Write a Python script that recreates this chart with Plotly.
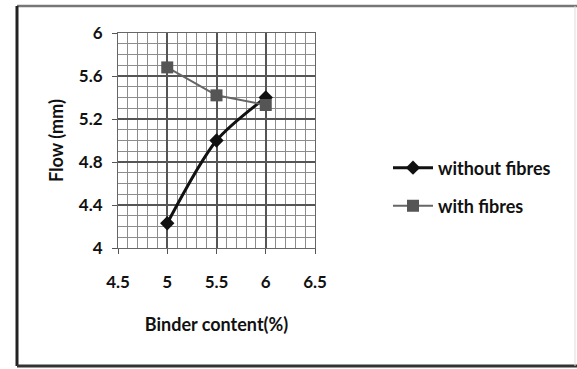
import plotly.graph_objects as go

# Marshall flow versus binder content
binder = [5, 5.5, 6]
flow_without = [4.23, 5.0, 5.4]
flow_with = [5.68, 5.42, 5.33]

W, H = 577, 369
L, R, T, B = 118, 315, 33, 248  # plot area in pixels


def px(x):
    return (x - L) / (R - L)


def py(y):
    return 1 - (y - T) / (B - T)


FONT = "Lato"
TICK = dict(family=FONT, size=17, color="#111111", weight="bold")
TITLE = dict(family=FONT, size=18, color="#111111", weight="bold")

fig = go.Figure()
fig.add_trace(go.Scatter(
    x=binder, y=flow_without, name="without fibres", mode="lines+markers",
    line=dict(color="#111111", width=3, shape="spline", smoothing=0.8),
    marker=dict(symbol="diamond", size=11, color="#111111"),
    legend="legend", showlegend=True,
))
fig.add_trace(go.Scatter(
    x=binder, y=flow_with, name="with fibres", mode="lines+markers",
    line=dict(color="#666666", width=2),
    marker=dict(symbol="square", size=12, color="#555555"),
    legend="legend2", showlegend=True,
))

axis_common = dict(
    showline=True, linecolor="#666666", linewidth=1, mirror=True,
    showgrid=True, gridcolor="#555555", gridwidth=1.5,
    ticks="outside", ticklen=5, tickcolor="#555555",
    tickfont=TICK,
    zeroline=False,
)

fig.update_layout(
    width=W, height=H,
    margin=dict(l=L, r=W - R, t=T, b=H - B),
    paper_bgcolor="white", plot_bgcolor="white",
    showlegend=True,
    xaxis=dict(
        range=[4.5, 6.5], dtick=0.5, tick0=4.5, ticklabelstandoff=14,
        minor=dict(dtick=0.1, showgrid=True, gridcolor="#8c8c8c", gridwidth=1),
        title=dict(text="Binder content(%)", standoff=26, font=TITLE),
        **axis_common,
    ),
    yaxis=dict(
        range=[4, 6], dtick=0.4, tick0=4, ticklabelstandoff=6,
        minor=dict(dtick=0.1, showgrid=True, gridcolor="#8c8c8c", gridwidth=1),
        title=dict(text="Flow (mm)", standoff=10, font=TITLE),
        **axis_common,
    ),
    legend=dict(x=px(388), y=py(168), xanchor="left", yanchor="middle",
                bgcolor="rgba(0,0,0,0)", itemwidth=40, font=TITLE),
    legend2=dict(x=px(388), y=py(206), xanchor="left", yanchor="middle",
                 bgcolor="rgba(0,0,0,0)", itemwidth=40, font=TITLE),
)

# Chart frame
frame = [
    (17, 6, 577, 6, "#777777", 2.5),
    (17, 6, 17, 366, "#222222", 3),
    (17, 366, 577, 366, "#333333", 3),
    (575, 6, 575, 366, "#dddddd", 1),
]
for x0, y0, x1, y1, c, w in frame:
    fig.add_shape(type="line", xref="paper", yref="paper",
                  x0=px(x0), y0=py(y0), x1=px(x1), y1=py(y1),
                  line=dict(color=c, width=w))

fig.write_html("out.html")
